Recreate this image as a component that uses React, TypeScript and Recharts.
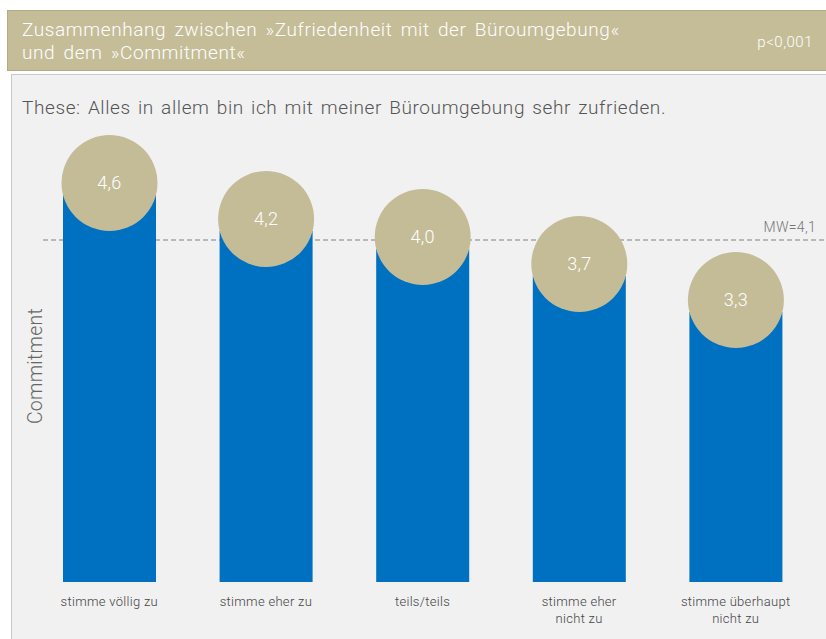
import React from 'react';
import { BarChart, Bar, XAxis, YAxis, ReferenceLine } from 'recharts';

const categories = ['stimme völlig zu', 'stimme eher zu', 'teils/teils', 'stimme eher\nnicht zu', 'stimme überhaupt\nnicht zu'];
const values = [4.6, 4.2, 4.0, 3.7, 3.3];
const meanValue = 4.1;
const meanLabel = 'MW=4,1';
const title1 = 'Zusammenhang zwischen »Zufriedenheit mit der Büroumgebung«';
const title2 = 'und dem »Commitment«';
const pValue = 'p<0,001';
const thesis = 'These: Alles in allem bin ich mit meiner Büroumgebung sehr zufrieden.';
const yLabel = 'Commitment';
const yDomain = [0.3, 5.5];

const data = categories.map((c, i) => ({ name: c, value: values[i] }));

const FONT = 'Roboto, "Liberation Sans", Arial, sans-serif';
const BLUE = '#0070C0';
const TAN = '#C4BC97';

const fmt = (v: number) => v.toFixed(1).replace('.', ',');

const BarShape = (props: any) => {
  const { x, y, width, height, value } = props;
  const v = Array.isArray(value) ? value[1] : value;
  const cx = x + width / 2;
  const cy = y - 12;
  return (
    <g>
      <rect x={x} y={y} width={width} height={height} fill={BLUE} />
      <circle cx={cx} cy={cy} r={48} fill={TAN} />
      <text x={cx} y={cy + 6} textAnchor="middle" fill="#FFFFFF" fontSize={18} fontFamily={FONT} fontWeight={300} letterSpacing={0.3}>
        {fmt(v)}
      </text>
    </g>
  );
};

const Tick = (props: any) => {
  const { x, y, payload } = props;
  const lines = String(payload.value).split('\n');
  return (
    <g>
      {lines.map((l, i) => (
        <text key={i} x={x} y={y + 16 + i * 17} textAnchor="middle" fill="#444" fontSize={13} fontFamily={FONT} fontWeight={300} letterSpacing={0.3}>
          {l}
        </text>
      ))}
    </g>
  );
};

const RefShape = (props: any) => {
  const { x1, y1, x2, y2 } = props;
  return (
    <g>
      <line x1={x1 + 12} y1={y1} x2={x2 + 12} y2={y2} stroke="#808080" strokeWidth={1.2} strokeDasharray="5 3" />
      <text x={x2 + 2} y={y1 - 8} textAnchor="end" fill="#777" fontSize={14} fontFamily={FONT} fontWeight={300} letterSpacing={0.3}>
        {meanLabel}
      </text>
    </g>
  );
};

const YLabel = (props: any) => {
  const { viewBox } = props;
  const cx = viewBox.x + viewBox.width + 4;
  const cy = viewBox.y + viewBox.height / 2 + 18;
  return (
    <text x={cx} y={cy} transform={`rotate(-90, ${cx}, ${cy})`} textAnchor="middle" dominantBaseline="central" fill="#666" fontSize={19.5} fontFamily={FONT} fontWeight={300} letterSpacing={0.3}>
      {yLabel}
    </text>
  );
};

const MARGIN = { top: 114, bottom: 0, left: 0, right: 12 };

export default function App() {
  return (
    <div style={{ position: 'absolute', left: 0, top: 0, width: 826, height: 639, background: '#FFFFFF', overflow: 'hidden', fontFamily: FONT }}>
      <div style={{ position: 'absolute', left: 7, top: 10, width: 830, height: 61, background: '#C5BD98', border: '1px solid #B3AB86', boxSizing: 'border-box' }}>
        <div style={{ position: 'absolute', left: 14, top: 7, color: '#FFFFFF', fontSize: 19, fontWeight: 300, lineHeight: '23px', letterSpacing: '0.6px', wordSpacing: '3px', whiteSpace: 'nowrap' }}>
          {title1}
          <br />
          {title2}
        </div>
        <div style={{ position: 'absolute', right: 23, top: 22, color: '#FFFFFF', fontSize: 15, fontWeight: 300, letterSpacing: '0.5px' }}>{pValue}</div>
      </div>
      <div style={{ position: 'absolute', left: 11, top: 74, width: 830, height: 580, background: '#F1F1F1', border: '1px solid #C8C8C8', boxSizing: 'border-box' }} />
      <div style={{ position: 'absolute', left: 22, top: 96, color: '#555', fontSize: 19, fontWeight: 300, letterSpacing: '0.6px', wordSpacing: '2px', whiteSpace: 'nowrap' }}>{thesis}</div>
      <div style={{ position: 'absolute', left: 0, top: 0 }}>
        <BarChart width={826} height={639} data={data} margin={MARGIN} barSize={93}>
          <YAxis width={31} domain={yDomain} axisLine={false} tickLine={false} tick={false} label={<YLabel />} allowDataOverflow />
          <XAxis dataKey="name" height={57} axisLine={false} tickLine={false} tick={<Tick />} interval={0} />
          <ReferenceLine y={meanValue} shape={<RefShape />} />
        </BarChart>
      </div>
      <div style={{ position: 'absolute', left: 0, top: 0 }}>
        <BarChart width={826} height={639} data={data} margin={MARGIN} barSize={93}>
          <YAxis width={31} domain={yDomain} axisLine={false} tickLine={false} tick={false} allowDataOverflow />
          <XAxis dataKey="name" height={57} axisLine={false} tickLine={false} tick={false} interval={0} />
          <Bar dataKey="value" isAnimationActive={false} shape={<BarShape />} />
        </BarChart>
      </div>
    </div>
  );
}
